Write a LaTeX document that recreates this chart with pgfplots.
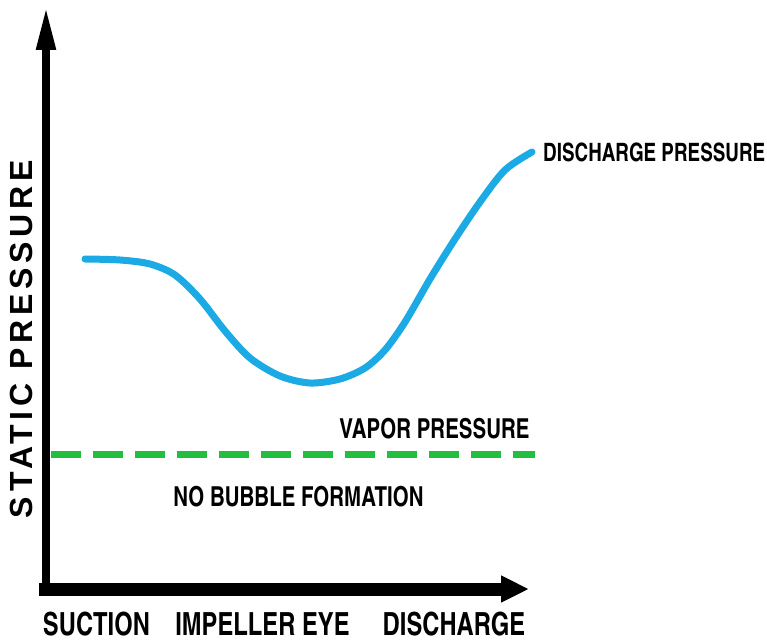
\documentclass[border=0pt]{standalone}
\usepackage{fontspec}
\setmainfont{Liberation Sans}
\newfontfamily\cn{texgyreheroscn-bold.otf}
\newfontfamily\ylab[LetterSpace=15]{Liberation Sans Bold}
\usepackage{pgfplots}
\pgfplotsset{compat=1.18}
\usetikzlibrary{arrows.meta}
\definecolor{curveblue}{RGB}{27,170,228}
\definecolor{vapgreen}{RGB}{34,190,64}
\newcommand{\tall}[1]{\scalebox{1}[1.1]{#1}}
\begin{document}
\begin{tikzpicture}
\begin{axis}[
  scale only axis,
  width=483pt, height=583pt,
  xmin=46, xmax=529, ymin=53, ymax=636,
  enlargelimits=false,
  clip=false,
  axis x line=bottom, axis y line=left,
  x axis line style={-{Triangle[length=28pt,width=25pt]}, line width=13pt, line cap=rect},
  y axis line style={-{Triangle[length=44pt,width=18pt]}, line width=8pt},
  xtick={96.5,262.5,454}, xticklabels={\tall{SUCTION}, \tall{IMPELLER EYE}, \tall{DISCHARGE}},
  ytick=\empty,
  major tick length=0pt,
  xticklabel style={font=\cn\fontsize{29}{29}\selectfont, anchor=base, yshift=-46pt, inner sep=0pt},
  ylabel={STATIC PRESSURE},
  every axis y label/.style={at={(axis cs:21,303)}, rotate=90, anchor=center, inner sep=0pt, font=\ylab\fontsize{32}{32}\selectfont},
]
\path (axis cs:0,0) rectangle (axis cs:767,642);
\addplot[smooth, line width=7pt, color=curveblue, line cap=round] coordinates {
(85,383) (120,382) (150,378) (175,367) (200,343) (225,311) (250,284) (280,266)
(310,259) (340,263) (365,274) (385,292) (405,320) (430,363) (455,403) (480,440)
(505,472) (532,490)
};
\addplot[line width=7pt, color=vapgreen, dash pattern=on 30pt off 12pt] coordinates {(51,188) (535,188)};
\node[anchor=west, inner sep=0pt, font=\cn\fontsize{23}{23}\selectfont] at (axis cs:543,490) {\tall{DISCHARGE PRESSURE}};
\node[anchor=center, inner sep=0pt, font=\cn\fontsize{25}{25}\selectfont] at (axis cs:434.5,213) {\tall{VAPOR PRESSURE}};
\node[anchor=center, inner sep=0pt, font=\cn\fontsize{25}{25}\selectfont] at (axis cs:298.5,145) {\tall{NO BUBBLE FORMATION}};
\end{axis}
\end{tikzpicture}
\end{document}
